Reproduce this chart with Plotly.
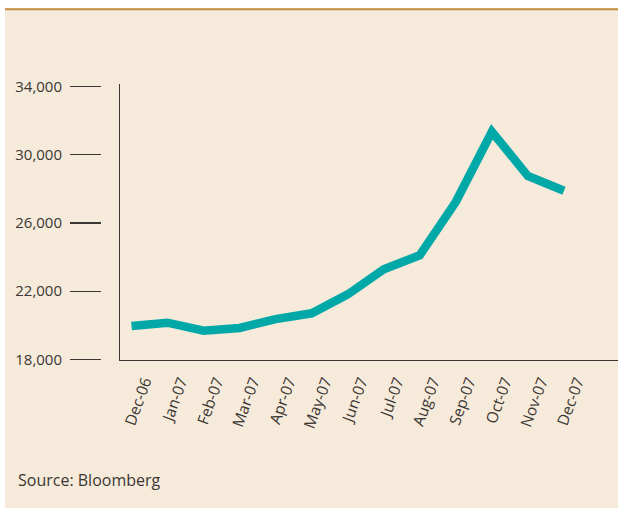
import plotly.graph_objects as go

months = ["Dec-06", "Jan-07", "Feb-07", "Mar-07", "Apr-07", "May-07", "Jun-07",
          "Jul-07", "Aug-07", "Sep-07", "Oct-07", "Nov-07", "Dec-07"]
values = [19950, 20150, 19680, 19840, 20360, 20700, 21810,
          23280, 24110, 27240, 31350, 28750, 27890]
y_ticks = [18000, 22000, 26000, 30000, 34000]
y_tick_text = ["18,000", "22,000", "26,000", "30,000", "34,000"]
source_text = "Source: Bloomberg"

BEIGE = "#F6EADB"
TEAL = "#00A9A8"
INK = "#3B3733"
GOLD = "#C38B3C"
FONT = "Open Sans, Noto Sans, sans-serif"

W, H = 618, 508
ML, MR, MT, MB = 48, 0, 84, 508 - 360
PW, PH = W - ML - MR, H - MT - MB


def px_x(x):  # page pixel -> paper fraction
    return (x - ML) / PW


def px_y(y):
    return (H - MB - y) / PH


yr = [17960, 34150]

fig = go.Figure()
fig.add_trace(go.Scatter(
    x=months, y=values, mode="lines",
    line=dict(color=TEAL, width=8.5),
    hoverinfo="skip", showlegend=False,
))
# invisible companion trace so the detached tick axis is rendered
fig.add_trace(go.Scatter(
    x=months, y=values, mode="lines", yaxis="y2",
    line=dict(color="rgba(0,0,0,0)", width=0),
    hoverinfo="skip", showlegend=False,
))

fig.update_layout(
    width=W, height=H,
    margin=dict(l=ML, r=MR, t=MT, b=MB),
    paper_bgcolor=BEIGE, plot_bgcolor=BEIGE,
    font=dict(family=FONT, size=15, color=INK),
    showlegend=False,
    hovermode=False,
    xaxis=dict(
        type="category", categoryorder="array", categoryarray=months,
        domain=[px_x(120), 1], range=[-0.32, 13.5],
        showgrid=False, zeroline=False,
        showline=True, linecolor=INK, linewidth=1.3,
        ticks="outside", ticklen=5, tickcolor="rgba(0,0,0,0)",
        tickangle=-70, tickfont=dict(family=FONT, size=15.5, color=INK),
        ticklabelshift=13,
    ),
    yaxis=dict(
        range=yr, showgrid=False, zeroline=False,
        showline=True, linecolor=INK, linewidth=1.3,
        showticklabels=False, ticks="",
    ),
    yaxis2=dict(
        range=yr, overlaying="y", anchor="free", position=px_x(101), side="left",
        showgrid=False, zeroline=False, showline=False,
        tickvals=y_ticks, ticktext=y_tick_text,
        ticks="outside", ticklen=31, tickwidth=1.2, tickcolor=INK,
        tickfont=dict(family=FONT, size=15, color=INK),
        ticklabelstandoff=5,
    ),
    shapes=[
        dict(type="rect", xref="paper", yref="paper",
             x0=px_x(-5), x1=px_x(W + 5), y0=px_y(8.3), y1=px_y(-5),
             fillcolor="white", line=dict(width=0)),
        dict(type="rect", xref="paper", yref="paper",
             x0=px_x(-5), x1=px_x(5), y0=px_y(H + 5), y1=px_y(-5),
             fillcolor="white", line=dict(width=0)),
        dict(type="line", xref="paper", yref="paper",
             x0=px_x(5), x1=px_x(W + 5), y0=px_y(9.2), y1=px_y(9.2),
             line=dict(color=GOLD, width=2)),
    ],
    annotations=[
        dict(text=source_text, xref="paper", yref="paper",
             x=px_x(16), y=px_y(480), xanchor="left", yanchor="middle",
             showarrow=False, font=dict(family=FONT, size=16, color=INK)),
    ],
)

fig.write_html(
    "out.html",
    config={"displayModeBar": False, "staticPlot": True},
    post_script="document.body.style.margin='0';"
                "document.documentElement.style.overflow='hidden';"
                "document.body.style.overflow='hidden';",
)
